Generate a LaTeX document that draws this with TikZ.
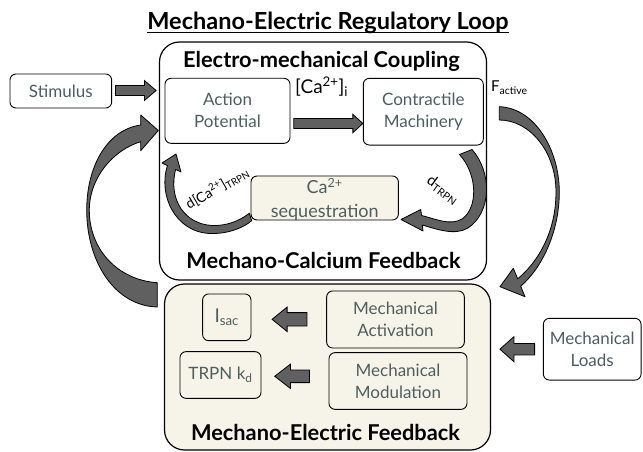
\documentclass[tikz,border=0pt]{standalone}
\usepackage{fontspec}
\setmainfont{Lato}
\usetikzlibrary{calc}
\definecolor{txtgray}{RGB}{78,94,94}
\definecolor{beige}{RGB}{246,244,232}
\definecolor{arrowgray}{RGB}{96,96,96}
\newcommand\bxfont{\fontsize{17}{22}\selectfont}
\newcommand\hdfont{\bfseries\fontsize{21.8}{24}\selectfont}
\newcommand\ttlfont{\bfseries\fontsize{23.5}{26}\selectfont}
\newcommand\blockarr[5]{%
  \filldraw[blockarrow] ($(#1)+(0,{-(#3)})$) -- ($(#2)+({-(#5)},{-(#3)})$) -- ($(#2)+({-(#5)},{-(#4)})$) -- (#2) -- ($(#2)+({-(#5)},{#4})$) -- ($(#2)+({-(#5)},{#3})$) -- ($(#1)+(0,{#3})$) -- cycle;}
\begin{document}
\begin{tikzpicture}[x=1pt,y=-1pt,
  box/.style={draw=black, line width=0.9pt, rounded corners=6pt, fill=white, text=txtgray, align=center, inner sep=0pt, font=\bxfont},
  txt/.style={text=txtgray, align=center, inner sep=0pt, font=\bxfont},
  region/.style={draw=black, line width=1.2pt, rounded corners=20pt, inner sep=0pt},
  hdr/.style={font=\hdfont, text=black, inner sep=0pt},
  lbl/.style={text=black, inner sep=0pt},
  blockarrow/.style={fill=arrowgray, draw=black, line width=0.8pt, line join=miter},
  curvearrow/.style={fill=arrowgray, draw=black, line width=0.8pt, line join=round}]
\useasboundingbox (0,0) rectangle (643,452);
% title
\node[font=\ttlfont, inner sep=0pt, anchor=base] (title) at (328,30) {Mechano-Electric Regulatory Loop};
\draw[line width=1.4pt] ($(title.base west)+(0,2.5)$) -- ($(title.base east)+(0,2.5)$);
% regions
\node[region, minimum width=327pt, minimum height=238pt] (emc) at (323,161) {};
\node[region, fill=beige, minimum width=326pt, minimum height=166pt] (mef) at (327.5,367) {};
\node[hdr, anchor=base] (hemc) at (321.5,68) {Electro-mechanical Coupling};
\node[hdr, anchor=base] (hmcf) at (323.5,268) {Mechano-Calcium Feedback};
\node[hdr, anchor=base] (hmef) at (325.5,440) {Mechano-Electric Feedback};
% boxes
\node[box, minimum width=101.7pt, minimum height=34pt] (stim) at (60.8,91) {Stimulus};
\node[box, minimum width=125pt, minimum height=65pt] (ap) at (227.5,110.8) {Action\\Potential};
\node[box, minimum width=120pt, minimum height=66.7pt] (cm) at (423.3,111.7) {Contractile\\Machinery};
\node[box, fill=beige, minimum width=147.4pt, minimum height=44pt] (seq) at (324.7,198) {};
\node[txt, font=\fontsize{18}{24}\selectfont] (seqtext) at (324.7,199.5) {Ca\textsuperscript{2+}\\sequestration};
\node[box, fill=beige, minimum width=48.3pt, minimum height=46.7pt] (isac) at (226.8,317.3) {\fontsize{19}{20}\selectfont I\textsubscript{sac}};
\node[box, fill=beige, minimum width=81pt, minimum height=46.7pt] (trpn) at (220.5,375) {TRPN k\textsubscript{d}};
\node[box, fill=beige, minimum width=137.7pt, minimum height=57pt] (ma) at (395.5,319.5) {Mechanical\\Activation};
\node[box, fill=beige, minimum width=138pt, minimum height=56.7pt] (mm) at (398,381) {Mechanical\\Modulation};
\node[box, minimum width=97.7pt, minimum height=61.7pt] (loads) at (592.2,349.2) {Mechanical\\Loads};
% labels
\node[lbl, anchor=base west, font=\fontsize{19}{20}\selectfont] (cai) at (295,93) {[Ca\textsuperscript{2+}]\textsubscript{i}};
\node[lbl, anchor=base west, font=\fontsize{15}{16}\selectfont] (fact) at (491,92) {F\textsubscript{active}};
\node[lbl, rotate=30, font=\fontsize{14}{15}\selectfont] (dca) at (217,188) {d[Ca\textsuperscript{2+}]\textsubscript{TRPN}};
\node[lbl, rotate=-36, font=\fontsize{15}{16}\selectfont] (dtrpn) at (443,190) {d\textsubscript{TRPN}};
% straight block arrows
\coordinate (a1t) at ($(stim.east)+(3.4,-0.5)$);
\coordinate (a1h) at ($(emc.west |- a1t)+(-2.8,0)$);
\blockarr{a1t}{a1h}{5}{10}{11.7}
\coordinate (a2t) at ($(ap.east)+(3.3,12.7)$);
\coordinate (a2h) at (cm.west |- a2t);
\blockarr{a2t}{a2h}{5}{9.2}{10}
\coordinate (a3t) at ($(ma.west)+(-19.3,-0.2)$);
\coordinate (a3h) at ($(isac.east |- a3t)+(20.7,0)$);
\blockarr{a3t}{a3h}{6.7}{12.2}{-15}
\coordinate (a4t) at ($(mm.west)+(-19,-4.7)$);
\coordinate (a4h) at ($(trpn.east |- a4t)+(13.3,0)$);
\blockarr{a4t}{a4h}{6.3}{12.2}{-15.7}
\coordinate (a5t) at ($(loads.west)+(-8.3,0)$);
\coordinate (a5h) at ($(mef.east |- a5t)+(8.8,0)$);
\blockarr{a5t}{a5h}{5.7}{12.5}{-14}
% curved arrows
% big left: MEF -> AP
\filldraw[curvearrow] (157.3,282.7) -- (157.3,307)
  .. controls (115,306) and (86.7,262) .. (86.7,210)
  .. controls (86.7,168) and (106,130) .. (140.7,125)
  -- (140.7,115) -- (158.3,130.5) -- (140.7,150.7) -- (140.7,141.7)
  .. controls (113,150) and (89.3,178) .. (89.3,210)
  .. controls (89.3,250) and (118,280) .. (157.3,282.7) -- cycle;
% big right: F_active -> MEF
\filldraw[curvearrow] (499.3,106.7)
  .. controls (535,108) and (559.3,150) .. (559.3,192)
  .. controls (559.3,232) and (542,268) .. (520.7,286.2)
  -- (525,296.7) -- (500,286.7) -- (513.3,268.3) -- (517.7,278.8)
  .. controls (538,262) and (556,232) .. (556,192)
  .. controls (556,152) and (530,120) .. (499.3,120) -- cycle;
% small left: seq -> AP
\filldraw[curvearrow] (249.3,213.3) -- (251.7,220.7)
  .. controls (243,228) and (228,234) .. (210,233.5)
  .. controls (175,232) and (158,195) .. (167.4,165.6)
  -- (162,163) -- (176,154) -- (181,172) -- (175.6,169.4)
  .. controls (168,200) and (185,224) .. (212,225.5)
  .. controls (225,226) and (238,222) .. (249.3,213.3) -- cycle;
% small right: CM -> seq
\filldraw[curvearrow] (459.5,154.5) -- (472,149.5)
  .. controls (492,172) and (492,212) .. (468,228)
  .. controls (455,236) and (436,229) .. (422.3,225)
  -- (423,231) -- (401,219.5) -- (420.7,209.5) -- (421.6,215.5)
  .. controls (436,219) and (450,226) .. (462,219)
  .. controls (478,208) and (478,175) .. (459.5,154.5) -- cycle;
\end{tikzpicture}
\end{document}
